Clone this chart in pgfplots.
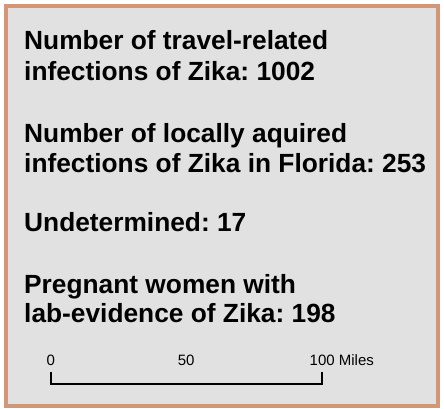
\documentclass[border=0pt]{standalone}
\usepackage{fontspec}
\setmainfont{Liberation Sans}
\usepackage{pgfplots}
\pgfplotsset{compat=1.18}
\frenchspacing
\definecolor{bordercol}{RGB}{212,150,120}
\definecolor{fillcol}{RGB}{225,225,225}
\tikzset{big/.style={font=\fontsize{26.3}{30}\selectfont\bfseries, anchor=base west, inner sep=0pt},
  small/.style={font=\fontsize{15}{17}\selectfont, inner sep=0pt}}
\begin{document}
\begin{tikzpicture}
\begin{axis}[
  width=444pt, height=408pt, scale only axis,
  xmin=0, xmax=444, ymin=0, ymax=408, y dir=reverse,
  hide axis, clip=false,
]
\fill[white] (axis cs:0,0) rectangle (axis cs:444,408);
\draw[bordercol, line width=3.5pt, fill=fillcol] (axis cs:5.8,5.8) rectangle (axis cs:438.2,405.8);
\node[big] at (axis cs:24,49.5) {Number of travel-related};
\node[big] at (axis cs:24,80) {infections of Zika: 1002};
\node[big] at (axis cs:24,142) {Number of locally aquired};
\node[big] at (axis cs:24,172) {infections of Zika in Florida: 253};
\node[big] at (axis cs:24,231) {Undetermined: 17};
\node[big] at (axis cs:24,293) {Pregnant women with};
\node[big] at (axis cs:24,322) {lab-evidence of Zika: 198};
\addplot[black, line width=1.7pt, line cap=rect] coordinates {(50.7,373) (50.7,384.3) (321.7,384.3) (321.7,373)};
\node[small, anchor=base] at (axis cs:50.7,365) {0};
\node[small, anchor=base] at (axis cs:186.2,365) {50};
\node[small, anchor=base west] at (axis cs:309.5,365) {100 Miles};
\end{axis}
\end{tikzpicture}
\end{document}
